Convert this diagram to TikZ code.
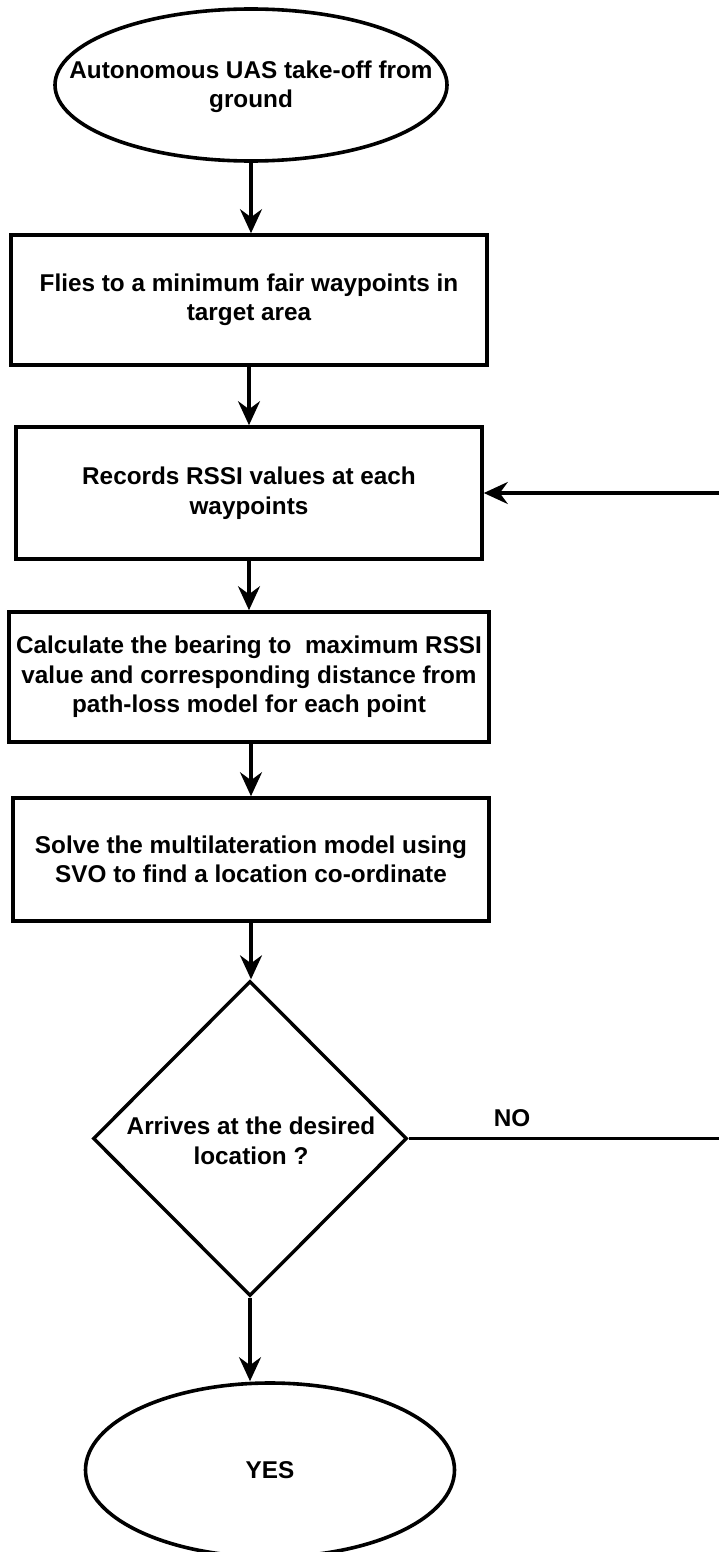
\documentclass[tikz,border=0pt]{standalone}
\usepackage{fontspec}
\setmainfont{Liberation Sans}
\usetikzlibrary{shapes.geometric,arrows.meta}
\begin{document}
\begin{tikzpicture}[x=1pt,y=-1pt,
  every node/.style={font=\fontsize{24.3}{29.5}\selectfont\bfseries},
  box/.style={draw,line width=3.6pt,rectangle,align=center,inner sep=0pt},
  ell/.style={draw,line width=3.6pt,ellipse,inner sep=0pt},
  dia/.style={draw,line width=3.4pt,diamond,inner sep=0pt},
  txt/.style={align=center,inner sep=0pt},
  conn/.style={line width=3.2pt,-{Stealth[length=24pt,width=22pt,inset=8pt]}},
  plain/.style={line width=3.2pt}]
\useasboundingbox (0,0) rectangle (719,1552);
\fill[white] (0,0) rectangle (719,1552);

\node[ell, minimum width=392pt, minimum height=152pt] (start) at (251,85) {};
\node[txt] (starttxt) at (251,87) {Autonomous UAS take-off from\\ground};

\node[box, minimum width=475.5pt, minimum height=130pt] (b1) at (249,300) {Flies to a minimum fair waypoints in\\target area};
\node[box, minimum width=466pt, minimum height=132pt] (b2) at (249,493) {Records RSSI values at each\\waypoints};
\node[box, minimum width=480pt, minimum height=130pt] (b3) at (249,677) {Calculate the bearing to\ \ maximum RSSI\\value and corresponding distance from\\path-loss model for each point};
\node[box, minimum width=476pt, minimum height=123pt] (b4) at (251,859.5) {Solve the multilateration model using\\SVO to find a location co-ordinate};

\node[dia, minimum width=314pt, minimum height=315pt] (dec) at (250,1138.5) {};
\node[txt] (dectxt) at (251,1141) {Arrives at the desired\\location ?};

\node[ell, minimum width=369pt, minimum height=174pt] (yes) at (270,1470) {};
\node[txt] (yestxt) at (270,1470) {YES};

\node[txt] (no) at (512,1118) {NO};
\coordinate (noend) at (719,1138.5);
\coordinate (fb) at (719,493);

\draw[conn] (start.south) -- (start.south |- b1.north);
\draw[conn] (b1.south) -- (b1.south |- b2.north);
\draw[conn] (b2.south) -- (b2.south |- b3.north);
\draw[conn] ([xshift=2pt]b3.south) -- ([xshift=2pt]b3.south |- b4.north);
\draw[conn] (b4.south) -- (b4.south |- dec.north);
\draw[conn] (dec.south) -- (dec.south |- yes.north);
\draw[plain] (dec.east) -- (noend);
\draw[conn] (fb) -- (b2.east);
\end{tikzpicture}
\end{document}
